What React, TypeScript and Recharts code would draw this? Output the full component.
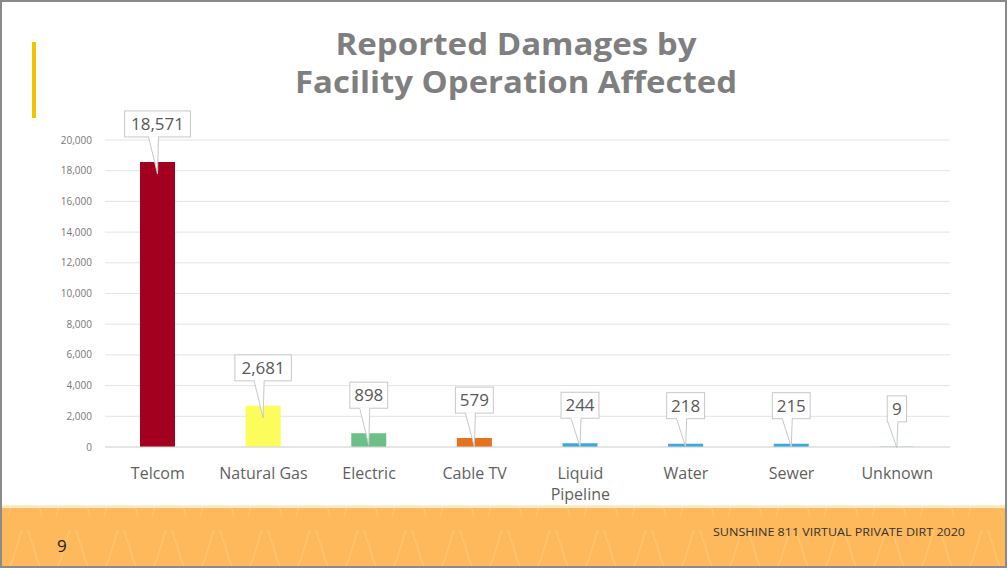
import React from 'react';
import { BarChart, Bar, XAxis, YAxis, CartesianGrid, Cell, LabelList, Text } from 'recharts';

const categories = ['Telcom', 'Natural Gas', 'Electric', 'Cable TV', 'Liquid Pipeline', 'Water', 'Sewer', 'Unknown'];
const damages = [18571, 2681, 898, 579, 244, 218, 215, 9];
const barColors = ['#A3001F', '#FCFC5A', '#6DBF88', '#E5721C', '#3AA9DB', '#3AA9DB', '#3AA9DB', '#3AA9DB'];
const yTicks = [0, 2000, 4000, 6000, 8000, 10000, 12000, 14000, 16000, 18000, 20000];

const data = categories.map((name, i) => ({ name, value: damages[i] }));

const FONT = '"Open Sans", "Noto Sans", sans-serif';

const CategoryTick = ({ x, y, payload }: any) => (
  <Text
    x={x}
    y={y + 13}
    width={96}
    textAnchor="middle"
    verticalAnchor="start"
    fontSize={16}
    fill="#5f5f5f"
    fontFamily={FONT}
    lineHeight={21}
  >
    {payload.value}
  </Text>
);

const Callout = (props: any) => {
  const { x, y, width, height, value } = props;
  const label = Number(value).toLocaleString('en-US');
  const cx = x + width / 2;
  const boxW = label.length * 9.3 + 10;
  const boxH = 26;
  const boxBottom = y - 25;
  const boxTop = boxBottom - boxH;
  const tipY = y + Math.min(12, Math.max(height, 1));
  return (
    <g>
      <rect x={cx - boxW / 2} y={boxTop} width={boxW} height={boxH} fill="#fff" stroke="#c8c8c8" strokeWidth={1} />
      <path
        d={`M${cx - 9},${boxBottom} L${cx},${tipY} L${cx + 1},${boxBottom}`}
        fill="#fff"
        stroke="#c8c8c8"
        strokeWidth={1}
      />
      <line x1={cx - 8.5} y1={boxBottom} x2={cx + 0.5} y2={boxBottom} stroke="#fff" strokeWidth={1.5} />
      <text x={cx} y={boxTop + 19} textAnchor="middle" fontSize={17} fill="#595959" fontFamily={FONT}>
        {label}
      </text>
    </g>
  );
};

export default function App() {
  return (
    <div style={{ position: 'absolute', left: 0, top: 0, width: 1008, height: 570, background: '#fff', overflow: 'hidden' }}>
      <svg width={1008} height={570} style={{ position: 'absolute', left: 0, top: 0 }}>
        <defs>
          <pattern id="zig" width={48} height={58} patternUnits="userSpaceOnUse">
            <path d="M8,52 L22,8 M28,8 L42,52" stroke="#ffd08a" strokeWidth={1} fill="none" opacity={0.7} />
          </pattern>
        </defs>
        <rect x={2} y={508} width={1004} height={58} fill="#FDB95B" />
        <rect x={2} y={508} width={1004} height={58} fill="url(#zig)" />
        <rect x={2} y={505} width={1004} height={3} fill="#fde9c4" />
        <rect x={32} y={42} width={4} height={76} fill="#F2C200" />
        <text x={516} y={55} textAnchor="middle" fontSize={31} fontWeight={700} fill="#7f7f7f" fontFamily={FONT}
          textLength={361} lengthAdjust="spacingAndGlyphs">
          Reported Damages by
        </text>
        <text x={516} y={93} textAnchor="middle" fontSize={31} fontWeight={700} fill="#7f7f7f" fontFamily={FONT}
          textLength={442} lengthAdjust="spacingAndGlyphs">
          Facility Operation Affected
        </text>
        <text x={57} y={552} fontSize={17} fill="#222" fontFamily={FONT}>9</text>
        <text x={713} y={536} fontSize={11} fill="#333" fontFamily={FONT} textLength={252} lengthAdjust="spacingAndGlyphs">
          SUNSHINE 811 VIRTUAL PRIVATE DIRT 2020
        </text>
        <rect x={1} y={1} width={1005} height={566} fill="none" stroke="#8a8a8a" strokeWidth={2} />
      </svg>
      <div style={{ position: 'absolute', left: 0, top: 0 }}>
        <BarChart width={1008} height={570} data={data} margin={{ top: 140, right: 58, left: 45, bottom: 63 }}>
          <CartesianGrid vertical={false} stroke="#e4e4e4" />
          <XAxis
            dataKey="name"
            interval={0}
            tickLine={false}
            axisLine={{ stroke: '#d9d9d9' }}
            tick={<CategoryTick />}
            height={60}
          />
          <YAxis
            width={60}
            domain={[0, 20000]}
            ticks={yTicks}
            tickLine={false}
            axisLine={false}
            tickMargin={7}
            tickFormatter={(v: number) => v.toLocaleString('en-US')}
            tick={{ fontSize: 10, fill: '#777', fontFamily: FONT }}
          />
          <Bar dataKey="value" barSize={35} isAnimationActive={false}>
            {data.map((d, i) => (
              <Cell key={d.name} fill={barColors[i]} />
            ))}
            <LabelList dataKey="value" content={<Callout />} />
          </Bar>
        </BarChart>
      </div>
    </div>
  );
}
